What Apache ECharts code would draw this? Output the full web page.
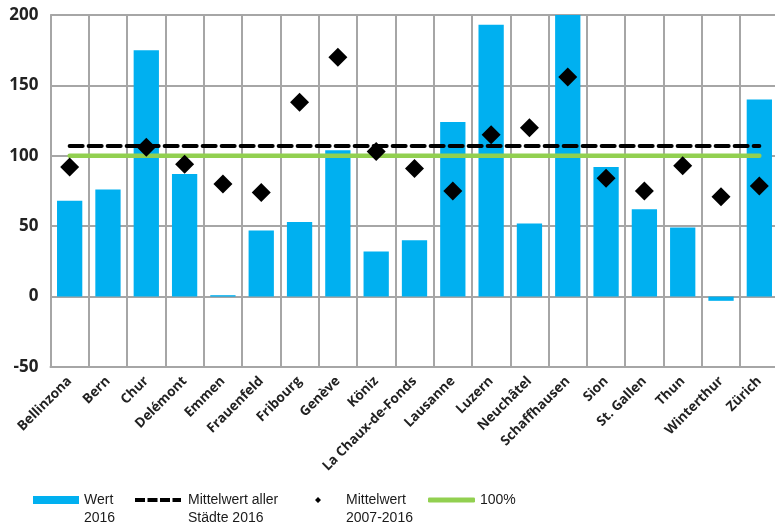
<!DOCTYPE html>
<html>
<head>
<meta charset="utf-8">
<script src="https://cdn.jsdelivr.net/npm/echarts@6/dist/echarts.min.js"></script>
<style>
html,body{margin:0;padding:0;background:#fff;overflow:hidden;width:775px;height:527px;}
#chart{width:785px;height:527px;}
</style>
</head>
<body>
<div id="chart"></div>
<script>
const categories = ['Bellinzona','Bern','Chur','Delémont','Emmen','Frauenfeld','Fribourg','Genève','Köniz','La Chaux-de-Fonds','Lausanne','Luzern','Neuchâtel','Schaffhausen','Sion','St. Gallen','Thun','Winterthur','Zürich'];
const wert2016 = [68, 76, 175, 87, 1, 47, 53, 104, 32, 40, 124, 193, 52, 200, 92, 62, 49, -3, 140];
const mittelwert0716 = [92, null, 106, 94, 80, 74, 138, 170, 103, 91, 75, 115, 120, 156, 84, 75, 93, 71, 78.5];
const mittelwertAlle2016 = [107, 107, 107, 107, 107, 107, 107, 107, 107, 107, 107, 107, 107, 107, 107, 107, 107, 107, 107];
const hundertProzent = [100, 100, 100, 100, 100, 100, 100, 100, 100, 100, 100, 100, 100, 100, 100, 100, 100, 100, 100];
const yTicks = [-50, 0, 50, 100, 150, 200];

const names = ['Wert\n2016', 'Mittelwert aller\nStädte 2016', 'Mittelwert\n2007-2016', '100%'];
const legendFont = {fontFamily: 'Liberation Sans, Arial, sans-serif', fontSize: 14, color: '#1a1a1a', lineHeight: 18};
function mkLegend(name, left, iw, ih, icon, padLeft) {
  return {
    data: [{name: name, icon: icon}], left: left, top: 491, padding: 0, itemWidth: iw, itemHeight: ih, itemGap: 0,
    selectedMode: false,
    textStyle: Object.assign({}, legendFont, {padding: [0, 0, 0, padLeft]})
  };
}
// icons: visible mark at the top, invisible zero-area segment pushes the box down so the mark sits beside the first text line
const barIcon = 'path://M0,0h46v8h-46z M0,26L46,26';
const dashIcon = 'path://M0,0h10v4h-10z M12.5,0h10v4h-10z M25,0h10v4h-10z M37.5,0h8.5v4h-8.5z M0,22L46,22';
const diamondIcon = 'path://M3,0L6,3L3,6L0,3Z M0,24L6,24';

const chart = echarts.init(document.getElementById('chart'), null, {renderer: 'canvas'});
chart.setOption({
  animation: false,
  backgroundColor: '#ffffff',
  grid: {left: 50.5, top: 15, width: 728, height: 352, containLabel: false},
  legend: [
    mkLegend(names[0], 33, 46, 26, barIcon, 0),
    mkLegend(names[1], 135, 46, 22, dashIcon, 2),
    mkLegend(names[2], 315, 6, 24, diamondIcon, 20),
    mkLegend(names[3], 428, 47, 5, 'roundRect', 0)
  ],
  xAxis: {
    type: 'category',
    data: categories,
    boundaryGap: true,
    axisLine: {show: true, onZero: false, lineStyle: {color: '#a6a6a6', width: 2}},
    axisTick: {show: false},
    splitLine: {show: true, lineStyle: {color: '#a6a6a6', width: 2}},
    axisLabel: {
      interval: 0, rotate: 45, margin: 12,
      fontFamily: 'Open Sans, sans-serif', fontWeight: 'bold', fontSize: 13.5, color: '#222'
    }
  },
  yAxis: {
    type: 'value', min: -50, max: 200, interval: 50,
    axisLine: {show: true, lineStyle: {color: '#a6a6a6', width: 2}},
    axisTick: {show: false},
    splitLine: {show: true, lineStyle: {color: '#a6a6a6', width: 2}},
    axisLabel: {
      margin: 12, fontFamily: 'Open Sans, sans-serif', fontWeight: 'bold', fontSize: 17, color: '#222',
      formatter: function (v) { return yTicks.indexOf(v) >= 0 ? String(v) : ''; }
    }
  },
  series: [
    {
      name: names[0], type: 'bar', data: wert2016, barWidth: '66%',
      itemStyle: {color: '#00b0f0'}, z: 2
    },
    {
      name: names[1], type: 'line', data: mittelwertAlle2016, symbol: 'none',
      lineStyle: {color: '#000', width: 4, type: [13, 6], cap: 'round'},
      itemStyle: {color: '#000'}, z: 4
    },
    {
      name: names[2], type: 'scatter', data: mittelwert0716, symbol: 'diamond', symbolSize: 19,
      itemStyle: {color: '#000', opacity: 1}, z: 5
    },
    {
      name: names[3], type: 'line', data: hundertProzent, symbol: 'none',
      lineStyle: {color: '#92d050', width: 4.5, cap: 'round'},
      itemStyle: {color: '#92d050'}, z: 3
    }
  ]
});
</script>
</body>
</html>
